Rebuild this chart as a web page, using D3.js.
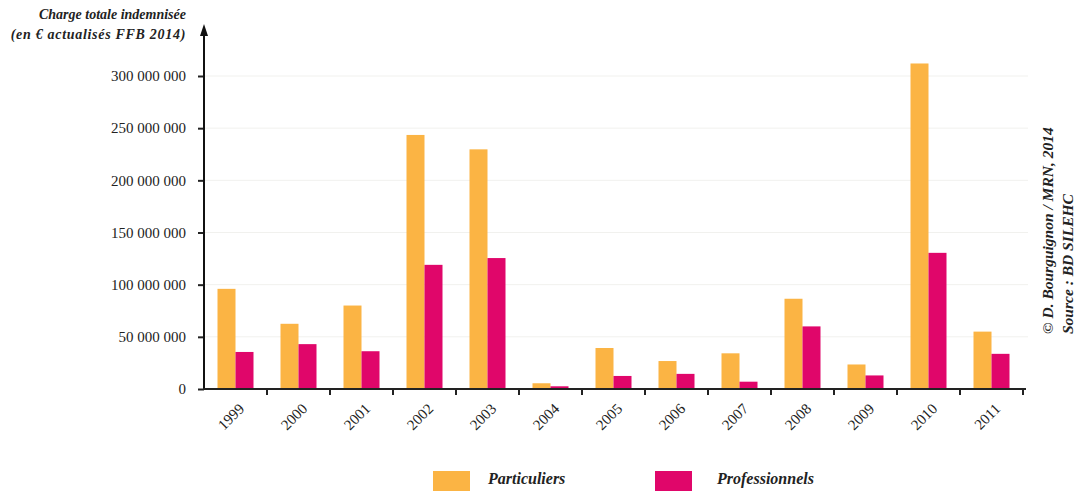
<!DOCTYPE html>
<html><head><meta charset="utf-8">
<script src="https://cdn.jsdelivr.net/npm/d3@7"></script>
<style>
body{margin:0;background:#fff;}
svg{display:block;}
svg text{font-family:"Liberation Serif","Times New Roman",serif !important;fill:#222;}
.bi{font-weight:bold;font-style:italic;}
</style></head>
<body>
<svg id="c" width="1083" height="491"></svg>
<script>
const years = ["1999","2000","2001","2002","2003","2004","2005","2006","2007","2008","2009","2010","2011"];
const particuliers = [96000000, 62500000, 80000000, 243500000, 229700000, 5500000, 39300000, 26800000, 34200000, 86500000, 23500000, 312000000, 55000000];
const professionnels = [35500000, 43000000, 36200000, 119000000, 125500000, 2600000, 12500000, 14500000, 7000000, 60000000, 13000000, 130500000, 33700000];
const seriesNames = ["Particuliers", "Professionnels"];
const colors = ["#FBB444", "#E0066A"];
const yTicks = [0, 50000000, 100000000, 150000000, 200000000, 250000000, 300000000];

const svg = d3.select("#c");
const x0 = 204, x1 = 1023, yZero = 389;
const x = d3.scaleBand().domain(years).range([x0, x1]).paddingInner(0).paddingOuter(0);
const y = d3.scaleLinear().domain([0, 300000000]).range([yZero, 76]);
const xs = d3.scaleBand().domain(seriesNames).range([0, x.bandwidth()]).paddingInner(0).paddingOuter(0.75);

// grid
svg.append("g").selectAll("line").data(yTicks.slice(1)).join("line")
  .attr("x1", x0).attr("x2", 1028).attr("y1", d => y(d)).attr("y2", d => y(d))
  .attr("stroke", "#f1f1ee").attr("stroke-width", 1);

// bars
const data = years.map((yr, i) => ({yr, vals: [particuliers[i], professionnels[i]]}));
const g = svg.append("g").selectAll("g").data(data).join("g")
  .attr("transform", d => `translate(${x(d.yr)},0)`);
g.selectAll("rect").data(d => d.vals.map((v, j) => ({v, s: seriesNames[j], j}))).join("rect")
  .attr("x", d => xs(d.s)).attr("width", xs.bandwidth())
  .attr("y", d => y(d.v)).attr("height", d => yZero - y(d.v))
  .attr("fill", d => colors[d.j]);

// y axis
const fmt = v => d3.format(",")(v).replace(/,/g, " ");
const yAxis = d3.axisLeft(y).tickValues(yTicks).tickSize(6).tickPadding(12).tickFormat(fmt);
const ya = svg.append("g").attr("transform", `translate(${x0},0)`).call(yAxis);
ya.select(".domain").remove();
ya.selectAll("line").attr("stroke", "#222").attr("stroke-width", 2);
ya.selectAll("text").attr("font-size", 15).attr("fill", "#222");
svg.append("line").attr("x1", x0).attr("x2", x0).attr("y1", yZero + 1).attr("y2", 34)
  .attr("stroke", "#111").attr("stroke-width", 2);
svg.append("path").attr("d", `M${x0 - 4},36 L${x0},24 L${x0 + 4},36 Z`).attr("fill", "#111");

// x axis
const xa = svg.append("g").attr("transform", `translate(0,${yZero})`);
xa.append("line").attr("x1", x0 - 1).attr("x2", 1026).attr("stroke", "#222").attr("stroke-width", 2);
xa.selectAll("line.t").data(years.slice(1).concat(["end"])).join("line").attr("class", "t")
  .attr("x1", d => d === "end" ? x1 : x(d)).attr("x2", d => d === "end" ? x1 : x(d))
  .attr("y1", 0).attr("y2", 6).attr("stroke", "#222").attr("stroke-width", 2);
xa.selectAll("text").data(years).join("text")
  .attr("transform", d => `translate(${x(d) + x.bandwidth() / 2 + 6},${17}) rotate(-45)`)
  .attr("text-anchor", "end").attr("font-size", 15).attr("dy", "0.35em").text(d => d);

// title
svg.append("text").attr("class", "bi").attr("x", 186).attr("y", 19).attr("text-anchor", "end")
  .attr("font-size", 14).text("Charge totale indemnisée");
svg.append("text").attr("class", "bi").attr("x", 186).attr("y", 39).attr("text-anchor", "end")
  .attr("font-size", 14).attr("letter-spacing", 0.7).text("(en € actualisés FFB 2014)");

// legend
const legX = [433, 655];
const legTx = [488, 717];
const lg = svg.append("g").selectAll("g").data(seriesNames).join("g");
lg.append("rect").attr("x", (d, i) => legX[i]).attr("y", 471).attr("width", 37).attr("height", 22)
  .attr("fill", (d, i) => colors[i]);
lg.append("text").attr("class", "bi").attr("x", (d, i) => legTx[i]).attr("y", 484)
  .attr("font-size", 16).text(d => d);

// credits
svg.append("text").attr("class", "bi").attr("transform", "translate(1053,334) rotate(-90)")
  .attr("font-size", 15.5).text("© D. Bourguignon / MRN, 2014");
svg.append("text").attr("class", "bi").attr("transform", "translate(1073,334) rotate(-90)")
  .attr("font-size", 15.5).text("Source : BD SILEHC");
</script>
</body></html>
